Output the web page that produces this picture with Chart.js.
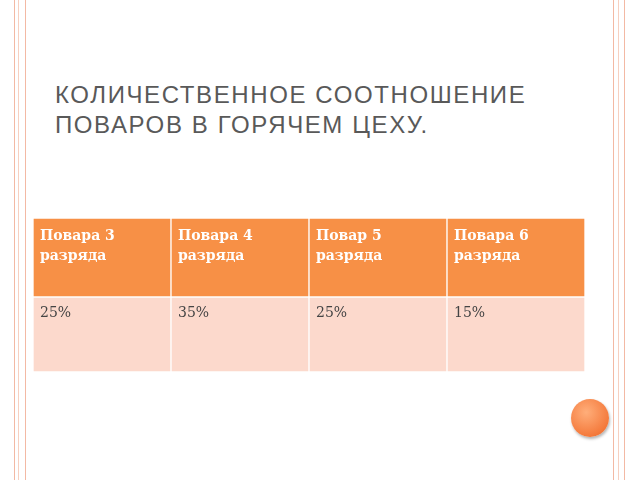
<!DOCTYPE html>
<html><head><meta charset="utf-8">
<script src="https://cdn.jsdelivr.net/npm/chart.js@4"></script>
<style>
body{margin:0;width:640px;height:480px;background:#fff;position:relative;overflow:hidden;font-family:"Liberation Sans",sans-serif}
.v{position:absolute;top:0;height:480px;width:1px;background:#f3b9a4}
#title{position:absolute;left:55px;top:80px;font-size:24px;line-height:30px;color:#595959;letter-spacing:1.6px}
#wrap{position:absolute;left:33px;top:218px;width:552px;height:154px}
#circ{position:absolute;left:571px;top:399px;width:38px;height:38px;border-radius:50%;background:radial-gradient(circle at 40% 35%,#ffae7a,#f47a3c 70%,#e2652a);box-shadow:1px 2px 3px rgba(0,0,0,.3)}
</style></head><body>
<div class="v" style="left:14px"></div><div class="v" style="left:18px;background:#f7d0c0"></div><div class="v" style="left:25px"></div>
<div class="v" style="left:613px"></div><div class="v" style="left:618px;background:#f7d0c0"></div><div class="v" style="left:624px"></div>
<div id="title">КОЛИЧЕСТВЕННОЕ СООТНОШЕНИЕ<br>ПОВАРОВ В ГОРЯЧЕМ ЦЕХУ.</div>
<div id="wrap"><canvas id="c"></canvas></div>
<div id="circ"></div>
<script>
const categories=["Повара 3\nразряда","Повара 4\nразряда","Повар 5\nразряда","Повара 6\nразряда"];
const shares=[25,35,25,15];
const headerRow=[75,154];
const dataRow=[0,75];
const textPlugin={id:'txt',afterDatasetsDraw(ch){
 const ctx=ch.ctx;ctx.save();ctx.textBaseline='top';ctx.textAlign='left';
 ch.getDatasetMeta(0).data.forEach((b,i)=>{
  const x=b.x-b.width/2+7;
  ctx.fillStyle='#fff';ctx.font='bold 14px "DejaVu Serif"';
  categories[i].split('\n').forEach((l,k)=>ctx.fillText(l,x,Math.min(b.y,b.base)+11+k*20));
 });
 ch.getDatasetMeta(1).data.forEach((b,i)=>{
  const x=b.x-b.width/2+7;
  ctx.fillStyle='#444';ctx.font='14px "DejaVu Serif"';
  ctx.fillText(shares[i]+'%',x,Math.min(b.y,b.base)+9);
 });
 ctx.restore();}};
new Chart(document.getElementById('c'),{type:'bar',
 data:{labels:categories,datasets:[
  {data:categories.map(()=>headerRow),backgroundColor:'#f79046',borderColor:'#fff',borderWidth:1,borderSkipped:false},
  {data:shares.map(()=>dataRow),backgroundColor:'#fcd9cc',borderColor:'#fff',borderWidth:1,borderSkipped:false}]},
 options:{responsive:true,maintainAspectRatio:false,animation:false,
  datasets:{bar:{barPercentage:1,categoryPercentage:1,grouped:false}},
  plugins:{legend:{display:false},tooltip:{enabled:false}},
  scales:{x:{display:false,stacked:false},y:{display:false,min:0,max:154}},
  layout:{padding:0}},
 plugins:[textPlugin]});
</script></body></html>
